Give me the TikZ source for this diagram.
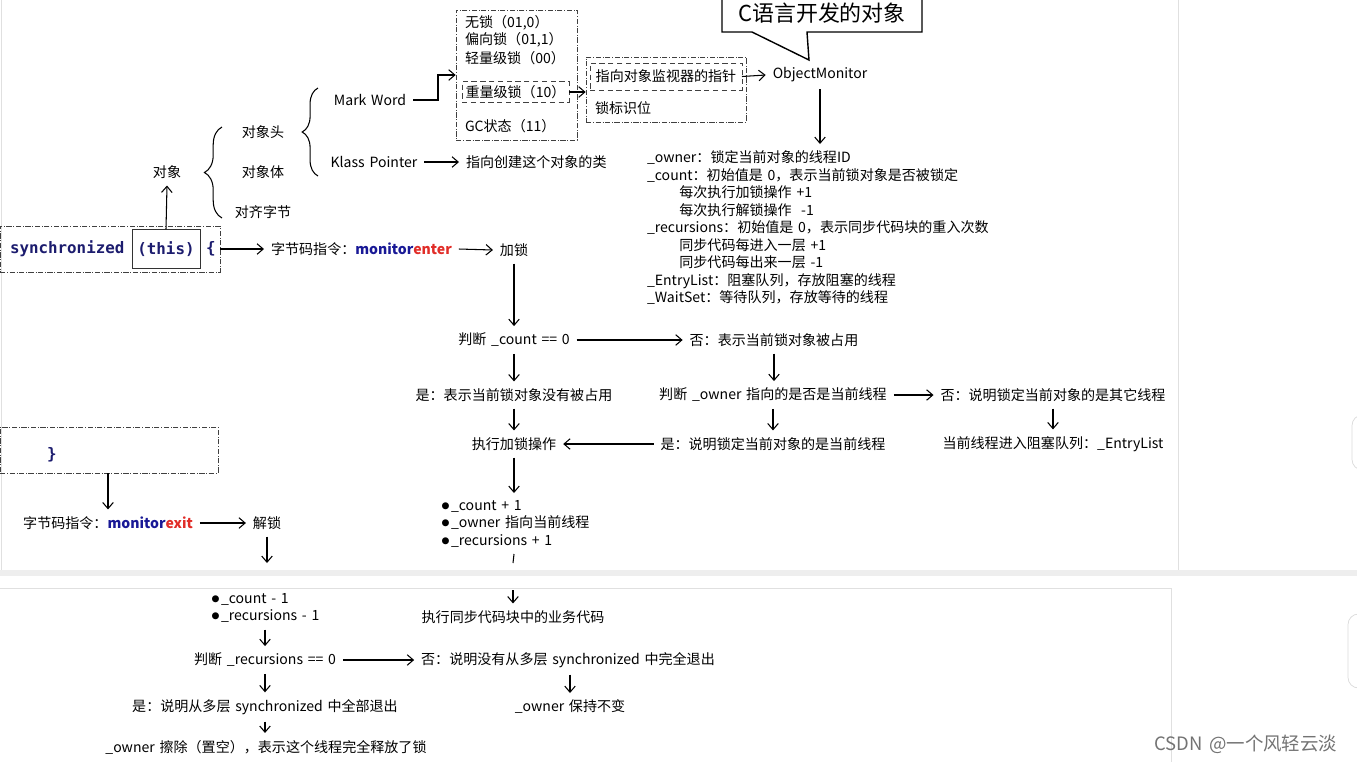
\documentclass[tikz,border=0pt]{standalone}
\usepackage{fontspec}
\setmainfont{Noto Sans CJK SC}[WordSpace=1.5]
\newfontfamily\codefont{DejaVu Sans Mono}
\usetikzlibrary{arrows.meta,decorations.pathreplacing}

\definecolor{codeblue}{RGB}{28,28,110}
\definecolor{monblue}{RGB}{25,25,150}
\definecolor{monred}{RGB}{225,45,40}
\definecolor{shotgray}{RGB}{238,238,238}

\newcommand\dotmark{\scalebox{1.2}{$\bullet$}\kern0.6pt}

\tikzset{
  txt/.style={inner sep=1pt, outer sep=3pt, font=\fontsize{8}{9.95}\selectfont},
  lst/.style={txt, align=left, anchor=north west},
  code/.style={inner sep=1pt, font=\fontsize{9}{11}\codefont\bfseries, text=codeblue},
  dashbox/.style={draw=black!75, densely dash dot, inner sep=0pt},
  innerbox/.style={draw=black!75, densely dashed, inner sep=2pt, outer sep=0pt},
  flow/.style={-{Straight Barb[length=3.5pt,width=6pt]}, semithick},
  lbrace/.style={decorate, decoration={brace, amplitude=#1}, semithick},
  lbrace/.default=9pt,
}

\begin{document}
\begin{tikzpicture}[x=0.02cm, y=-0.02cm]
  \useasboundingbox (0,0) rectangle (1357,762);
  % screenshot frame
  \fill[shotgray] (0,570) rectangle (1357,576);
  \draw[black!12] (1.5,0) -- (1.5,570);
  \draw[black!12] (1178,0) -- (1178,570);
  \draw[black!12] (0,588) -- (1171,588) (1171,588) -- (1171,762);
  \draw[black!15, rounded corners=6pt] (1366,415) -- (1352,415) -- (1352,470) -- (1366,470);
  \draw[black!15, rounded corners=6pt] (1366,614) -- (1348,614) -- (1348,688) -- (1366,688);
  \node[text=black!55, font=\fontsize{10.5}{12}\selectfont] (mark) at (1246,744) {CSDN @一个风轻云淡};

  % object layout
  \node[txt] (obj) at (167,172) {对象};
  \draw[lbrace=10pt] (222,218) -- (222,127);
  \node[txt] (head) at (263,132) {对象头};
  \node[txt] (body) at (263,172) {对象体};
  \node[txt] (pad) at (263,212) {对齐字节};
  \draw[lbrace=9pt] (318,176) -- (318,88);
  \node[txt] (mark word) at (370,100) {Mark Word};
  \node[txt] (klass) at (374,162) {Klass Pointer};
  \node[txt, anchor=west] (klassto) at (459,162) {指向创建这个对象的类};
  \draw[flow] (klass) -- (klassto);

  % lock states
  \node[dashbox, minimum width=2.42cm, minimum height=2.6cm] (lockbox) at (516.5,75) {};
  \node[txt, anchor=west] (nolock) at (458,23) {无锁（01,0）};
  \node[txt, anchor=west] (biased) at (458,40) {偏向锁（01,1）};
  \node[txt, anchor=west] (light) at (458,58) {轻量级锁（00）};
  \node[txt, innerbox, anchor=west] (heavy) at (462,92) {重量级锁（10）};
  \node[txt, anchor=west] (gc) at (458,126) {GC状态（11）};
  \draw[flow] (mark word.east) -- (438,100) |- (lockbox.west |- 0,75);

  \node[dashbox, minimum width=3.2cm, minimum height=1.3cm] (monbox) at (666,89.5) {};
  \node[txt, innerbox, minimum width=3.04cm, minimum height=0.54cm] (ptr) at (666,76.5) {指向对象监视器的指针};
  \node[txt, anchor=west] (flag) at (588,108) {锁标识位};
  \draw[flow] (heavy.east) -- (monbox.west |- heavy.east);

  \node[txt] (monitor) at (820,75) {ObjectMonitor};
  \draw[flow] (ptr.east) -- (monitor.west);
  \draw[line width=0.8pt, fill=white] (722,-6) -- (722,32) -- (752,32) -- (809,60) -- (807,32) -- (922,32) -- (922,-6);
  \node[font=\fontsize{12.5}{15}\selectfont] (callout) at (822,13) {C语言开发的对象};

  \node[lst] (fields) at (640,144) {\_owner：锁定当前对象的线程ID\\
    \_count：初始值是 0，表示当前锁对象是否被锁定\\
    \hspace*{2.3em}每次执行加锁操作 +1\\
    \hspace*{2.3em}每次执行解锁操作 \ -1\\
    \_recursions：初始值是 0，表示同步代码块的重入次数\\
    \hspace*{2.3em}同步代码每进入一层 +1\\
    \hspace*{2.3em}同步代码每出来一层 -1\\
    \_EntryList：阻塞队列，存放阻塞的线程\\
    \_WaitSet：等待队列，存放等待的线程};
  \draw[flow] (monitor.south) -- (monitor.south |- fields.north);

  % synchronized block
  \node[dashbox, minimum width=4.4cm, minimum height=0.92cm] (syncbox) at (110,249) {};
  \node[code, anchor=west] (syncw) at (8,249) {synchronized};
  \node[code, draw=black!80, solid, minimum width=1.36cm, minimum height=0.78cm] (thisw) at (166,249) {(this)};
  \node[code] (lbr) at (211,249) {\{};
  \draw[flow] (thisw.north) -- (obj.south);

  \node[txt, anchor=west] (enter) at (264,249) {字节码指令：{\bfseries\color{monblue}monitor}{\bfseries\color{monred}enter}};
  \draw[flow] (syncbox.east) -- (enter.west);
  \node[txt] (lock) at (514,250) {加锁};
  \draw[flow] (enter.east) -- (lock.west);

  % monitorenter flow
  \node[txt] (judge) at (514,340) {判断 \_count == 0};
  \node[txt] (busy) at (774,340) {否：表示当前锁对象被占用};
  \node[txt] (free) at (514,395) {是：表示当前锁对象没有被占用};
  \node[txt] (ownerq) at (773,395) {判断 \_owner 指向的是否是当前线程};
  \node[txt] (other) at (1053,395) {否：说明锁定当前对象的是其它线程};
  \node[txt] (entry) at (1053,444) {当前线程进入阻塞队列：\_EntryList};
  \node[txt] (dolock) at (514,444) {执行加锁操作};
  \node[txt] (same) at (773,444) {是：说明锁定当前对象的是当前线程};
  \node[lst] (incr) at (434,493) {\dotmark\_count + 1\\ \dotmark\_owner 指向当前线程\\ \dotmark\_recursions + 1};
  \coordinate (cut1) at (513,563);
  \coordinate (cut2) at (513,590);
  \node[txt] (biz) at (513,617) {执行同步代码块中的业务代码};

  \draw[flow] (lock.south) -- (judge.north);
  \draw[flow] (judge.east) -- (busy.west);
  \draw[flow] (judge.south) -- (free.north);
  \draw[flow] (busy.south) -- (busy.south |- ownerq.north);
  \draw[flow] (ownerq.east) -- (other.west);
  \draw[flow] (other.south) -- (entry.north);
  \draw[flow] (free.south) -- (dolock.north);
  \draw[flow] (ownerq.south) -- (same.north);
  \draw[flow] (same.west) -- (dolock.east);
  \draw[flow] (dolock.south) -- (dolock.south |- incr.north);
  \draw[semithick] (dolock.south |- incr.south) -- (cut1);
  \draw[flow] (cut2) -- (biz.north);

  % monitorexit flow
  \node[dashbox, minimum width=4.36cm, minimum height=0.92cm] (closebox) at (109,450) {};
  \node[code] (rbr) at (52,455) {\}};
  \node[txt] (exit) at (108,523) {字节码指令：{\bfseries\color{monblue}monitor}{\bfseries\color{monred}exit}};
  \node[txt] (unlock) at (267,523) {解锁};
  \coordinate (cut3) at (267,563);
  \draw[flow] (closebox.south -| exit.north) -- (exit.north);
  \draw[flow] (exit.east) -- (unlock.west);
  \draw[flow] (unlock.south) -- (cut3);

  \node[lst] (decr) at (204,586) {\dotmark\_count - 1\\ \dotmark\_recursions - 1};
  \node[txt] (judge2) at (265,660) {判断 \_recursions == 0};
  \node[txt] (notall) at (568,660) {否：说明没有从多层 synchronized 中完全退出};
  \node[txt] (keep) at (570,707) {\_owner 保持不变};
  \node[txt] (allout) at (265,707) {是：说明从多层 synchronized 中全部退出};
  \node[txt] (release) at (266,747) {\_owner 擦除（置空），表示这个线程完全释放了锁};

  \draw[flow] (judge2.north |- decr.south) -- (judge2.north);
  \draw[flow] (judge2.east) -- (notall.west);
  \draw[flow] (keep.north |- notall.south) -- (keep.north);
  \draw[flow] (judge2.south) -- (allout.north);
  \draw[flow] (allout.south) -- (allout.south |- release.north);
\end{tikzpicture}
\end{document}
